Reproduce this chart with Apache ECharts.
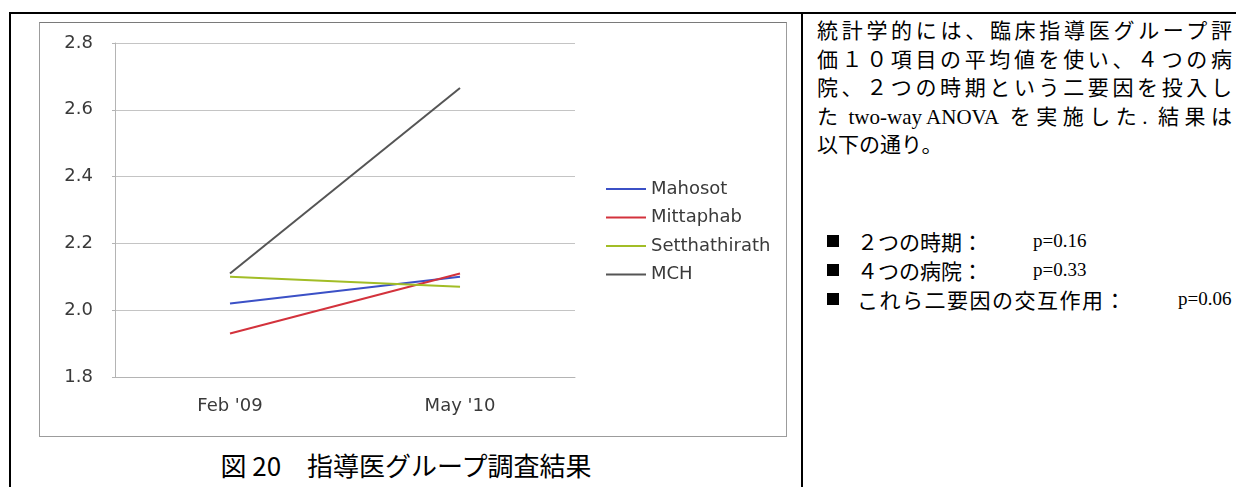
<!DOCTYPE html>
<html lang="ja">
<head>
<meta charset="utf-8">
<script src="https://cdn.jsdelivr.net/npm/echarts@6/dist/echarts.min.js"></script>
<style>
  html, body { margin: 0; padding: 0; background: #fff; }
  body { width: 1236px; height: 487px; position: relative; overflow: hidden; }
  .rule { position: absolute; background: #000; }
  #frame { position: absolute; left: 39px; top: 22px; width: 748px; height: 415px;
           box-sizing: border-box; border: 1px solid #9c9c9c; border-top-color: #7a7a7a; }
  #chart { width: 746px; height: 413px; filter: blur(0.45px); }
  .caption { position: absolute; left: 11px; width: 790px; top: 448px; text-align: center;
             font-family: "Noto Sans CJK JP", sans-serif; font-size: 26px; line-height: 34px; color: #000; }
  .doc { position: absolute; font-family: "Noto Sans CJK JP", serif;
         font-size: 21px; line-height: 28px; color: #000; white-space: nowrap; }
  .lat { font-family: "Liberation Serif", serif; font-size: 19px; }
  .ib { display: inline-block; }
  .just { text-align: justify; text-align-last: justify; white-space: normal; }
  .sq { position: absolute; width: 12px; height: 12px; background: #000; }
</style>
</head>
<body>
<div class="rule" style="left:9px;top:12px;width:1227px;height:2px"></div>
<div class="rule" style="left:9px;top:12px;width:2px;height:475px"></div>
<div class="rule" style="left:801px;top:12px;width:2px;height:475px"></div>

<div id="frame"><div id="chart"></div></div>
<div class="caption">図 20　指導医グループ調査結果</div>

<div class="doc just" style="left:817px;top:15px;width:415px">統計学的には、臨床指導医グループ評</div>
<div class="doc just" style="left:817px;top:44px;width:415px">価１０項目の平均値を使い、４つの病</div>
<div class="doc just" style="left:817px;top:72px;width:415px">院、２つの時期という二要因を投入し</div>
<div class="doc just" style="left:817px;top:101px;width:415px">た<span class="ib lat" style="margin:0 5px;font-size:21px">two-way ANOVA</span>を実施した<span class="ib lat" style="margin-right:5px;font-size:21px">.</span>結果は</div>
<div class="doc" style="left:817px;top:129px">以下の通り。</div>

<div class="sq" style="left:827px;top:235px"></div>
<div class="doc" style="left:857px;top:227px">２つの時期：</div>
<div class="doc lat" style="left:1033px;top:227px">p=0.16</div>
<div class="sq" style="left:827px;top:264px"></div>
<div class="doc" style="left:857px;top:256px">４つの病院：</div>
<div class="doc lat" style="left:1033px;top:256px">p=0.33</div>
<div class="sq" style="left:827px;top:293px"></div>
<div class="doc" style="left:857px;top:285px;letter-spacing:1.5px">これら二要因の交互作用：</div>
<div class="doc lat" style="left:1178px;top:285px">p=0.06</div>

<script>
// Survey periods on the category axis
const categories = ["Feb '09", "May '10"];

// Mean score of the ten supervisor-group items, per hospital
const mahosot = [2.02, 2.10];
const mittaphab = [1.93, 2.11];
const setthathirath = [2.10, 2.07];
const mch = [2.11, 2.665];

// Value-axis range and step
const yMin = 1.8;
const yMax = 2.8;
const yStep = 0.2;

const hospitals = [
  { name: 'Mahosot', data: mahosot, color: '#3b50c6' },
  { name: 'Mittaphab', data: mittaphab, color: '#d3323c' },
  { name: 'Setthathirath', data: setthathirath, color: '#a2bd26' },
  { name: 'MCH', data: mch, color: '#555555' }
];

const chart = echarts.init(document.getElementById('chart'), null, { renderer: 'canvas' });
const labelFont = { fontFamily: 'DejaVu Sans', fontSize: 18, color: '#3a3a3a' };

chart.setOption({
  animation: false,
  backgroundColor: '#fff',
  grid: { left: 75, top: 20, right: 211, bottom: 59, containLabel: false },
  legend: {
    orient: 'vertical',
    left: 561,
    top: 151,
    icon: 'rect',
    itemWidth: 40,
    itemHeight: 2,
    itemGap: 8.5,
    textStyle: Object.assign({ lineHeight: 20 }, labelFont),
    data: hospitals.map(h => h.name)
  },
  xAxis: {
    type: 'category',
    data: categories,
    boundaryGap: true,
    axisLine: { show: true, lineStyle: { color: '#b4b4b4', width: 1 } },
    axisTick: { show: false },
    axisLabel: Object.assign({ margin: 20 }, labelFont)
  },
  yAxis: {
    type: 'value',
    min: yMin,
    max: yMax,
    interval: yStep,
    axisLine: { show: true, lineStyle: { color: '#b4b4b4', width: 1 } },
    axisTick: { show: true, length: 3, lineStyle: { color: '#b4b4b4' } },
    splitLine: { show: true, lineStyle: { color: '#c4c4c4', width: 1 } },
    axisLabel: Object.assign({ margin: 22, formatter: v => v.toFixed(1) }, labelFont)
  },
  series: hospitals.map(h => ({
    name: h.name,
    type: 'line',
    data: h.data,
    symbol: 'none',
    color: h.color,
    lineStyle: { width: 2, color: h.color }
  }))
});
</script>
</body>
</html>
